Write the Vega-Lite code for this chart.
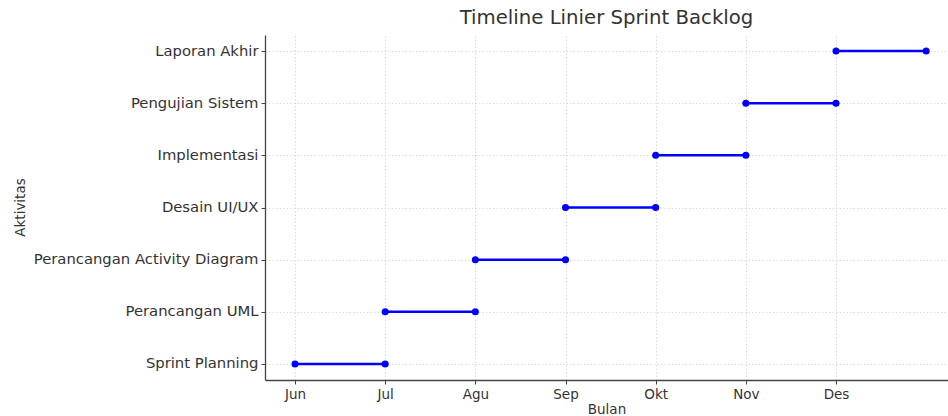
{
  "$schema": "https://vega.github.io/schema/vega-lite/v6.json",
  "autosize": "none",
  "padding": {"left": 265, "top": 35, "right": 0, "bottom": 36},
  "width": 683,
  "height": 345,
  "background": "white",
  "title": {
    "text": "Timeline Linier Sprint Backlog",
    "font": "DejaVu Sans",
    "fontSize": 19.7,
    "fontWeight": "normal",
    "color": "#333333",
    "anchor": "middle",
    "offset": 7
  },
  "config": {
    "view": {"stroke": null},
    "axis": {
      "labelFont": "DejaVu Sans",
      "titleFont": "DejaVu Sans",
      "labelFontSize": 14.8,
      "titleFontSize": 13.5,
      "labelColor": "#333333",
      "titleColor": "#333333",
      "titleFontWeight": "normal",
      "labelLimit": 0,
      "domainColor": "#444444",
      "domainWidth": 1.3,
      "tickColor": "#444444",
      "tickSize": 4,
      "gridColor": "#d4d4d4",
      "gridDash": [1.5, 2],
      "gridWidth": 0.8
    }
  },
  "data": {
    "values": [
      {"aktivitas": "Sprint Planning", "bulan": 0},
      {"aktivitas": "Sprint Planning", "bulan": 1},
      {"aktivitas": "Perancangan UML", "bulan": 1},
      {"aktivitas": "Perancangan UML", "bulan": 2},
      {"aktivitas": "Perancangan Activity Diagram", "bulan": 2},
      {"aktivitas": "Perancangan Activity Diagram", "bulan": 3},
      {"aktivitas": "Desain UI/UX", "bulan": 3},
      {"aktivitas": "Desain UI/UX", "bulan": 4},
      {"aktivitas": "Implementasi", "bulan": 4},
      {"aktivitas": "Implementasi", "bulan": 5},
      {"aktivitas": "Pengujian Sistem", "bulan": 5},
      {"aktivitas": "Pengujian Sistem", "bulan": 6},
      {"aktivitas": "Laporan Akhir", "bulan": 6},
      {"aktivitas": "Laporan Akhir", "bulan": 7}
    ]
  },
  "encoding": {
    "x": {
      "field": "bulan",
      "type": "quantitative",
      "scale": {"domain": [-0.333, 7.242], "nice": false, "zero": false},
      "axis": {
        "title": "Bulan",
        "values": [0, 1, 2, 3, 4, 5, 6],
        "labelExpr": "['Jun','Jul','Agu','Sep','Okt','Nov','Des'][datum.value]",
        "labelFontSize": 13.5,
        "labelPadding": 3,
        "titlePadding": 2,
        "grid": true
      }
    },
    "y": {
      "field": "aktivitas",
      "type": "nominal",
      "sort": ["Laporan Akhir", "Pengujian Sistem", "Implementasi", "Desain UI/UX", "Perancangan Activity Diagram", "Perancangan UML", "Sprint Planning"],
      "scale": {"type": "point", "padding": 0.307},
      "axis": {
        "title": "Aktivitas",
        "labelPadding": 3,
        "titleX": -245,
        "titleY": 172,
        "titleAngle": -90,
        "titleAlign": "center",
        "titleBaseline": "middle",
        "grid": true
      }
    }
  },
  "layer": [
    {
      "mark": {"type": "line", "color": "#0000ff", "strokeWidth": 2.5},
      "encoding": {"detail": {"field": "aktivitas"}}
    },
    {
      "mark": {"type": "point", "filled": true, "color": "#0000ff", "opacity": 1, "size": 50}
    }
  ]
}
